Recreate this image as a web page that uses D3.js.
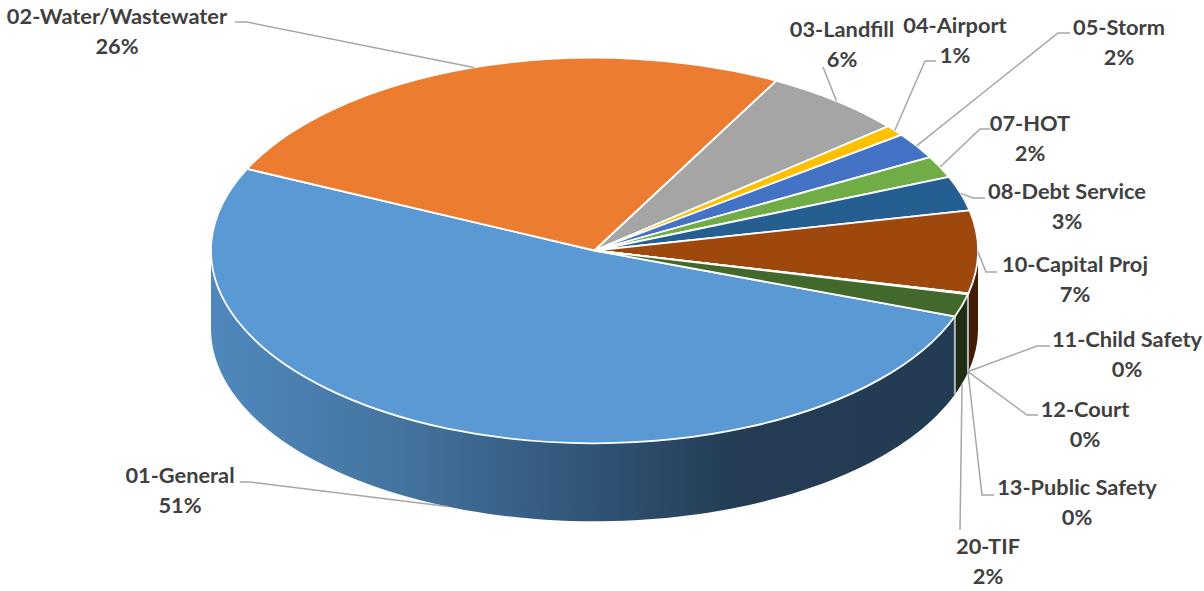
<!doctype html>
<html>
    <head>
        <meta charset="utf-8">
        <title>Funds pie</title>
        <style>
            body { margin: 0; background: #fff; }
            svg { display: block; }
            .label {
                font-family: Lato, sans-serif;
                font-weight: 700;
                font-size: 21.8px;
                fill: #404040;
                text-anchor: middle;
            }
            .leader { fill: none; stroke: #a6a6a6; stroke-width: 1.5; }
            .edge { stroke: #b4b8bc; stroke-width: 2; }
            .top { stroke: #fff; stroke-width: 1.8; vector-effect: non-scaling-stroke; stroke-linejoin: round; }
        </style>
        <script src="https://d3js.org/d3.v7.min.js"></script>
    </head>
    <body>
        <svg width="1204" height="591"></svg>
        <script type="text/javascript">

            //chart data, percent of total
            var funds = ["01-General","02-Water/Wastewater","03-Landfill","04-Airport","05-Storm","07-HOT","08-Debt Service","10-Capital Proj","11-Child Safety","12-Court","13-Public Safety","20-TIF"];
            var shares = [51.4,25.9,6.0,0.9,2.2,1.8,2.9,6.9,0.03,0.03,0.03,1.9];

            //colours of the top face and the darker side wall
            var topColours = ["#5B99D5","#EB7C30","#A5A5A5","#FFC000","#4472C4","#70AD47","#255E91","#9E480E","#636363","#997300","#264478","#43682B"];
            var wallColours = ["url(#wallGeneral)","#8a4a1c","#5c5c5c","#8a6a00","#263f6c","#3e6027","#143450","#421d04","#333333","#554000","#152644","#1f2d12"];

            //label centre and first line baseline, then the elbow and end of each leader line
            var labelPos = [[180,483],[117,24],[842,37],[955,33],[1119,35],[1030,131],[1067,199],[1075,272],[1127,347],[1085,417],[1077,495],[988,554]];
            var elbows = [[[250,482],[240,482]],[[247,22],[235,22]],[[823,67]],[[925,61],[936,61]],[[1058,33],[1070,33]],[[980,129],[990,129]],[[973,198],[985,198]],[[986,272],[997,272]],[[1037,346],[1050,346]],[[1027,415],[1038,415]],[[982,495],[994,495]],[[960,530]]];

            var svg = d3.select("svg"),
                cx = 594.5, cy = 250.5,
                rx = 383.5, ry = 192.8,
                depth = 78,
                rad = Math.PI / 180,
                firstAngle = 110 * rad;

            //unit circle to the flattened ellipse
            var xScale = d3.scaleLinear().domain([-1,1]).range([cx-rx,cx+rx]),
                yScale = d3.scaleLinear().domain([-1,1]).range([cy-ry,cy+ry]);

            function px(a){ return xScale(Math.sin(a)); }
            function py(a){ return yScale(-Math.cos(a)); }

            var pie = d3.pie().sort(null).startAngle(firstAngle).endAngle(firstAngle + 2*Math.PI);
            var slices = pie(shares);
            var total = d3.sum(shares);

            //gradient on the side of the big slice
            var grad = svg.append("defs").append("linearGradient")
                .attr("id","wallGeneral")
                .attr("gradientUnits","userSpaceOnUse")
                .attr("x1",cx-rx).attr("x2",cx+rx).attr("y1",0).attr("y2",0);
            grad.append("stop").attr("offset","0").attr("stop-color","#5088bd");
            grad.append("stop").attr("offset","0.245").attr("stop-color","#44749f");
            grad.append("stop").attr("offset","0.5").attr("stop-color","#305476");
            grad.append("stop").attr("offset","0.68").attr("stop-color","#243d55");
            grad.append("stop").attr("offset","1").attr("stop-color","#233c54");

            //side walls, only the part facing the viewer (90 to 270 degrees)
            var wallLine = d3.line().x(function(d){return d[0];}).y(function(d){return d[1];});
            slices.forEach(function(s,i){
                var a0 = Math.max(s.startAngle % (2*Math.PI), 90*rad),
                    a1 = Math.min(s.startAngle % (2*Math.PI) + (s.endAngle - s.startAngle), 270*rad);
                if (a1 <= a0) return;
                var steps = d3.range(0,1.0001,0.01).map(function(t){return a0 + (a1-a0)*t;});
                var pts = steps.map(function(a){return [px(a),py(a)];})
                    .concat(steps.slice().reverse().map(function(a){return [px(a),py(a)+depth];}));
                svg.append("path")
                    .attr("d",wallLine(pts)+"Z")
                    .attr("fill",wallColours[i]);
            });

            //light edges at both sides of the last slice wall
            [firstAngle, slices[11].startAngle].forEach(function(a){
                svg.append("line")
                    .attr("class","edge")
                    .attr("x1",px(a)).attr("x2",px(a))
                    .attr("y1",py(a)).attr("y2",py(a)+depth);
            });

            //top face
            var arc = d3.arc().innerRadius(0).outerRadius(rx);
            svg.append("g")
                .attr("transform","translate("+cx+","+cy+") scale(1,"+(ry/rx)+")")
                .selectAll("path")
                .data(slices)
                .enter()
                    .append("path")
                    .attr("class","top")
                    .attr("d",arc)
                    .attr("fill",function(d,i){return topColours[i];});

            //leader lines start at the slice middle, on the wall for the front slices
            slices.forEach(function(s,i){
                var mid = (s.startAngle + s.endAngle) / 2,
                    onWall = (mid % (2*Math.PI)) > 100*rad && (mid % (2*Math.PI)) < 270*rad,
                    start = [px(mid), py(mid) + (onWall ? depth : 0)];
                svg.append("path")
                    .attr("class","leader")
                    .attr("d",wallLine([start].concat(elbows[i])));
            });

            //labels, name then percent
            var lineGap = 29.5;
            var labels = svg.selectAll(".label")
                .data(funds)
                .enter()
                    .append("text")
                    .attr("class","label")
                    .attr("x",function(d,i){return labelPos[i][0];})
                    .attr("y",function(d,i){return labelPos[i][1];});
            labels.append("tspan").text(function(d){return d;});
            labels.append("tspan")
                .attr("x",function(d,i){return labelPos[i][0];})
                .attr("dy",lineGap)
                .text(function(d,i){return Math.round(shares[i]/total*100)+"%";});

        </script>
    </body>
</html>
